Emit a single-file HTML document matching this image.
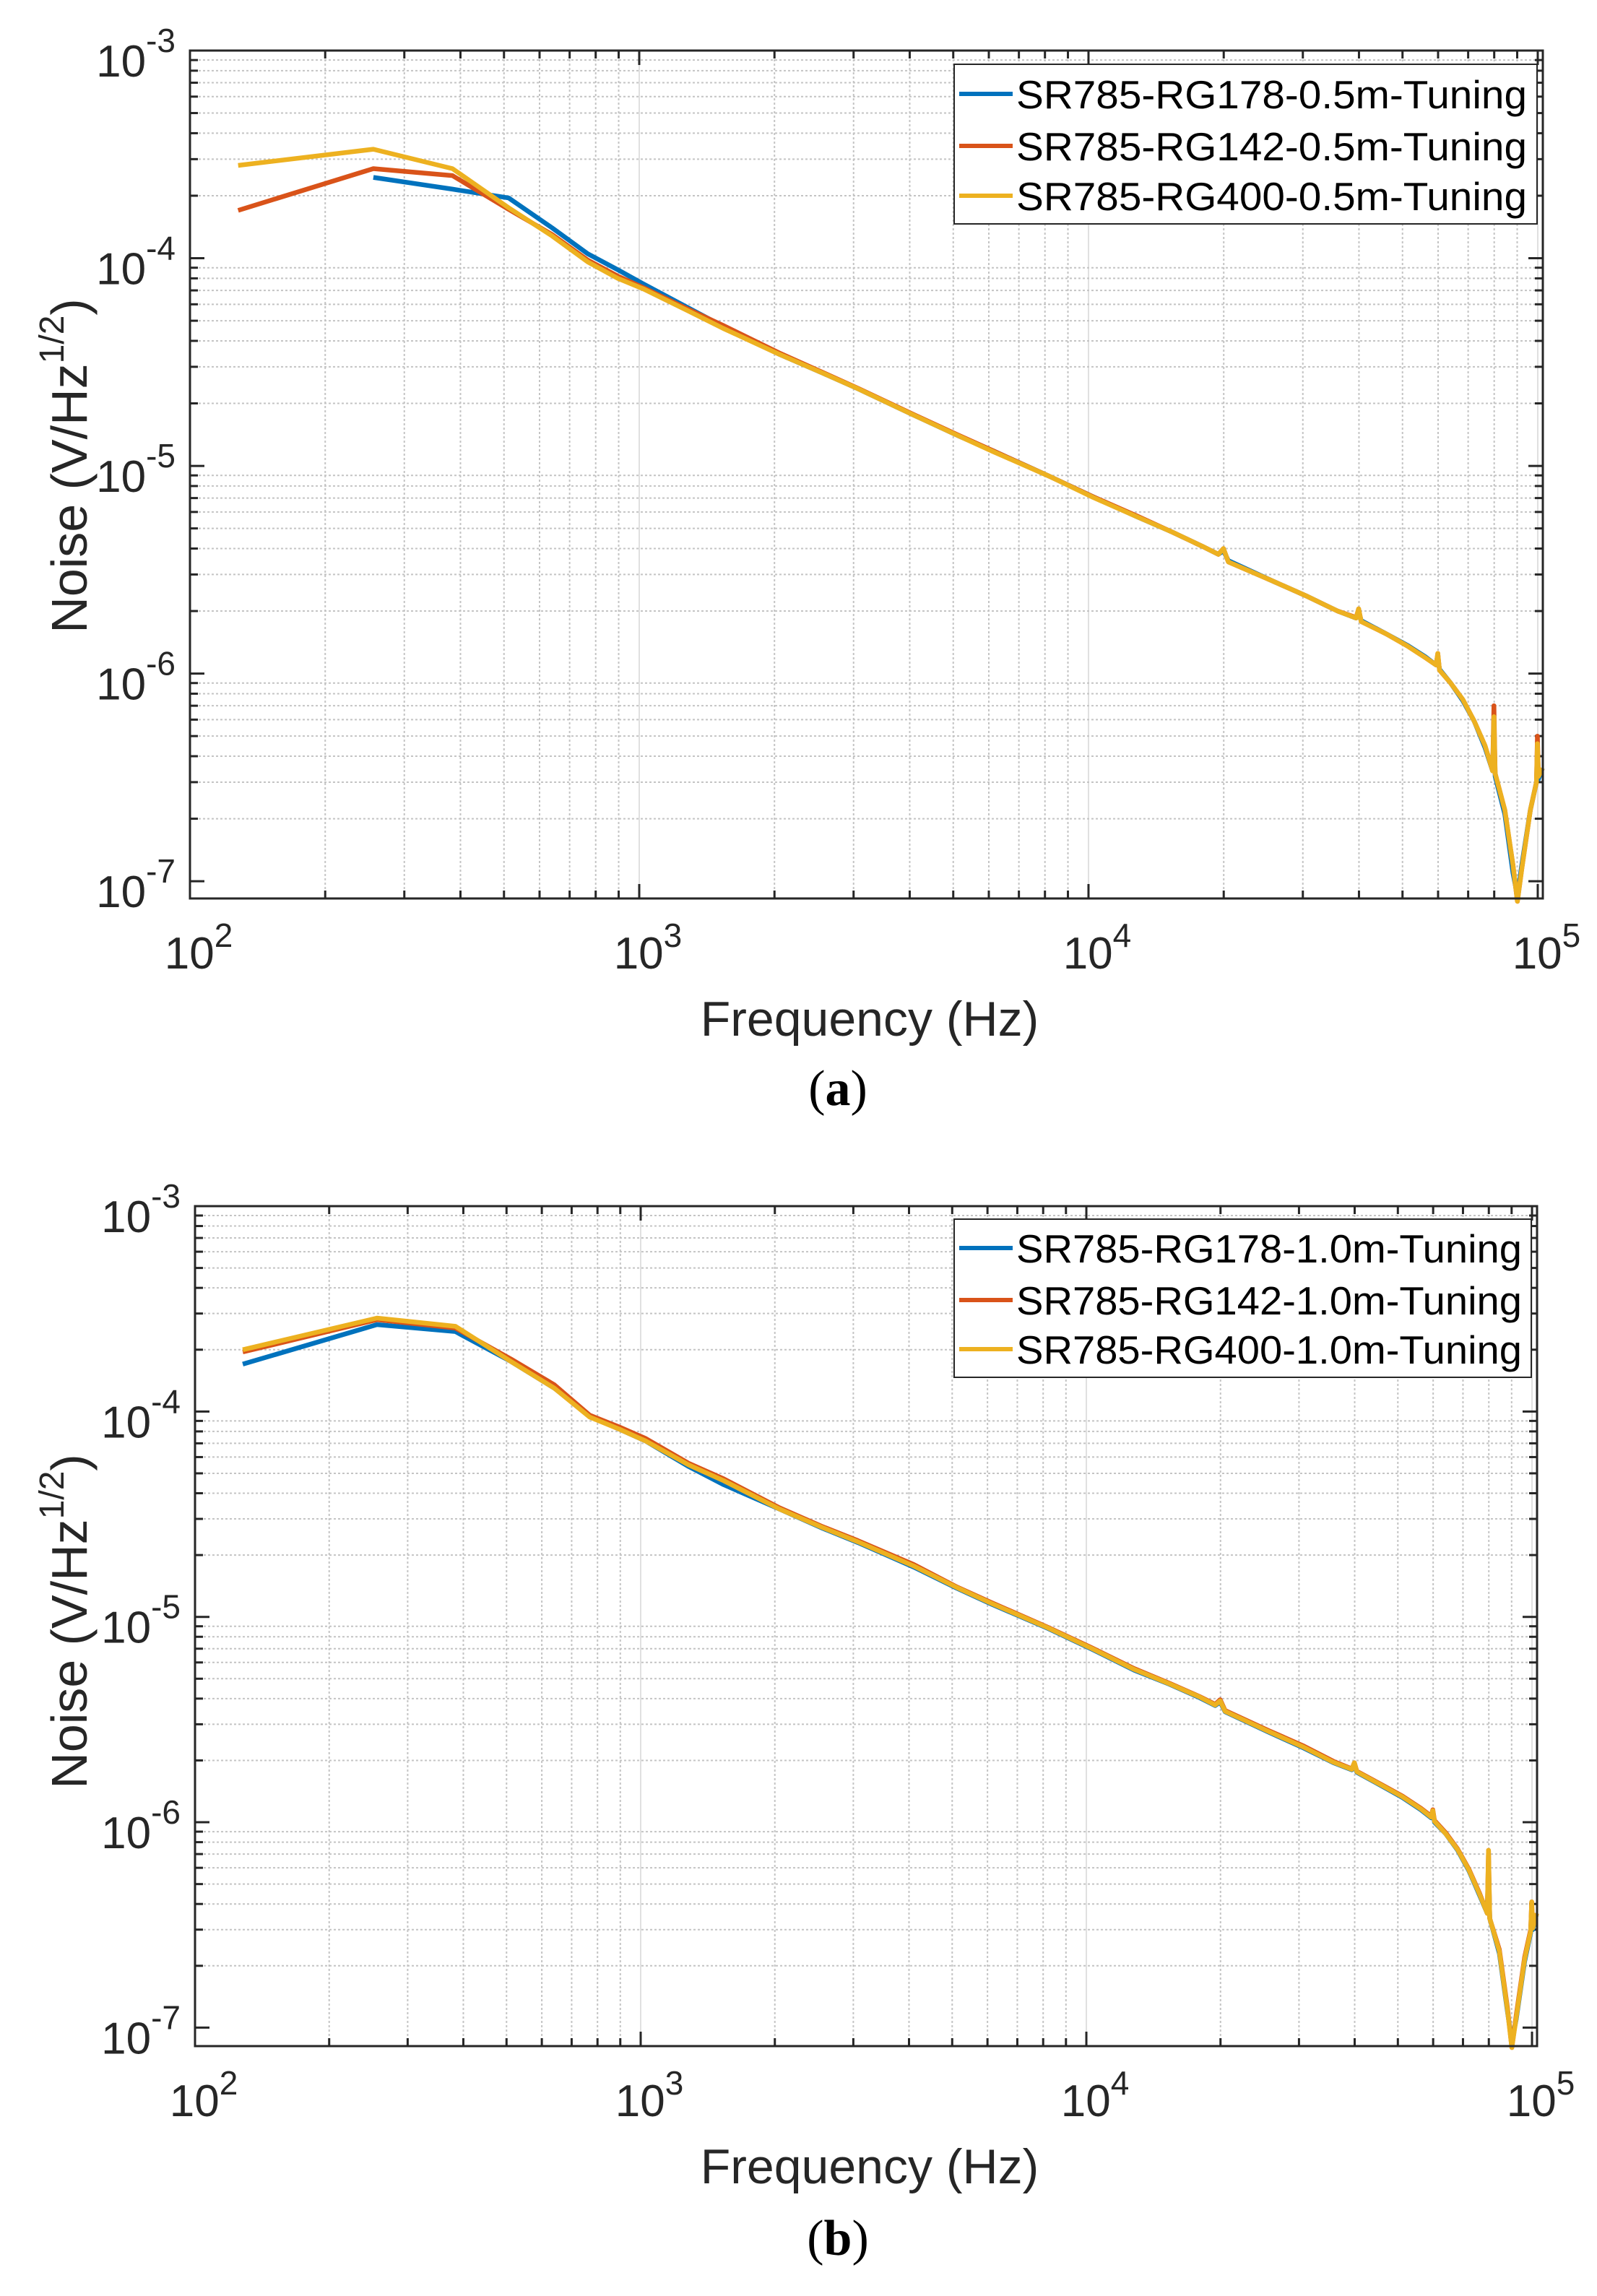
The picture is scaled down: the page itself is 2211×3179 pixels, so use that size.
<!DOCTYPE html>
<html><head><meta charset="utf-8"><style>
html,body{margin:0;padding:0;background:#fff;}
svg{display:block;font-family:"Liberation Sans",Arial,sans-serif;}
</style></head><body>
<svg id="fig" width="2211" height="3179" viewBox="0 0 2211 3179" xmlns="http://www.w3.org/2000/svg">
<rect x="0" y="0" width="2211" height="3179" fill="#fff"/>
</svg>
<script>
// ---- data (frequencies in Hz, noise in V/Hz^1/2) ----
const freqs = [128,256,384,512,640,768,896,1024,1280,1536,2048,2560,3072,4096,5120,6144,8192,10240,12800,15360,17920,19456,19968,20480,25600,30720,35840,39424,39936,40448,46080,51200,56320,59392,59904,60416,64000,68096,72192,76288,79360,79872,80384,84480,88064,90112,92160,96256,99328,99840,100352,102400];
const xTickLabels = ["2","3","4","5"];
const yTickLabels = ["-3","-4","-5","-6","-7"];
const seriesNamesA = ["SR785-RG178-0.5m-Tuning","SR785-RG142-0.5m-Tuning","SR785-RG400-0.5m-Tuning"];
const seriesNamesB = ["SR785-RG178-1.0m-Tuning","SR785-RG142-1.0m-Tuning","SR785-RG400-1.0m-Tuning"];
const blueA = [null,2.45e-4,2.15e-4,1.95e-4,1.4e-4,1.05e-4,8.8e-5,7.5e-5,5.8e-5,4.7e-5,3.45e-5,2.8e-5,2.35e-5,1.75e-5,1.4e-5,1.18e-5,8.9e-6,7.1e-6,5.7e-6,4.8e-6,4.1e-6,3.75e-6,3.9e-6,3.5e-6,2.8e-6,2.35e-6,2.0e-6,1.85e-6,2.0e-6,1.8e-6,1.55e-6,1.37e-6,1.2e-6,1.1e-6,1.2e-6,1.05e-6,9.0e-7,7.4e-7,5.9e-7,4.4e-7,3.4e-7,5.5e-7,3.2e-7,2.1e-7,1.1e-7,8.5e-8,1.2e-7,2.2e-7,3.0e-7,4.0e-7,3.1e-7,3.5e-7];
const redA = [1.7e-4,2.7e-4,2.5e-4,1.72e-4,1.3e-4,9.8e-5,8.2e-5,7.2e-5,5.7e-5,4.75e-5,3.5e-5,2.82e-5,2.36e-5,1.76e-5,1.41e-5,1.18e-5,8.9e-6,7.1e-6,5.75e-6,4.8e-6,4.1e-6,3.75e-6,4.0e-6,3.45e-6,2.8e-6,2.35e-6,2.0e-6,1.86e-6,2.05e-6,1.78e-6,1.55e-6,1.36e-6,1.19e-6,1.1e-6,1.25e-6,1.04e-6,9.0e-7,7.5e-7,5.9e-7,4.5e-7,3.4e-7,7.0e-7,3.3e-7,2.2e-7,1.2e-7,8.0e-8,1.15e-7,2.2e-7,3.0e-7,5.0e-7,3.2e-7,3.5e-7];
const yellowA = [2.8e-4,3.35e-4,2.7e-4,1.75e-4,1.28e-4,9.6e-5,8.0e-5,7.1e-5,5.6e-5,4.6e-5,3.45e-5,2.8e-5,2.35e-5,1.75e-5,1.4e-5,1.17e-5,8.9e-6,7.05e-6,5.7e-6,4.8e-6,4.1e-6,3.75e-6,4.0e-6,3.45e-6,2.8e-6,2.35e-6,2.0e-6,1.85e-6,2.05e-6,1.78e-6,1.55e-6,1.36e-6,1.19e-6,1.1e-6,1.25e-6,1.04e-6,9.0e-7,7.5e-7,5.9e-7,4.5e-7,3.4e-7,6.2e-7,3.3e-7,2.2e-7,1.2e-7,8.0e-8,1.15e-7,2.2e-7,3.0e-7,4.6e-7,3.2e-7,3.5e-7];
const blueB = [1.7e-4,2.65e-4,2.45e-4,1.75e-4,1.3e-4,9.5e-5,8.2e-5,7.2e-5,5.4e-5,4.4e-5,3.35e-5,2.7e-5,2.3e-5,1.75e-5,1.38e-5,1.15e-5,8.8e-6,7.0e-6,5.5e-6,4.7e-6,4.05e-6,3.7e-6,3.85e-6,3.45e-6,2.75e-6,2.3e-6,1.95e-6,1.8e-6,1.9e-6,1.75e-6,1.5e-6,1.32e-6,1.15e-6,1.05e-6,1.12e-6,1.0e-6,8.8e-7,7.3e-7,5.8e-7,4.4e-7,3.6e-7,6.5e-7,3.4e-7,2.3e-7,1.2e-7,8.5e-8,1.1e-7,2.1e-7,2.9e-7,3.8e-7,3.0e-7,3.6e-7];
const redB = [1.95e-4,2.8e-4,2.55e-4,1.8e-4,1.35e-4,9.6e-5,8.4e-5,7.4e-5,5.6e-5,4.7e-5,3.4e-5,2.75e-5,2.35e-5,1.8e-5,1.4e-5,1.17e-5,8.9e-6,7.1e-6,5.6e-6,4.75e-6,4.1e-6,3.75e-6,3.95e-6,3.5e-6,2.8e-6,2.35e-6,1.98e-6,1.82e-6,1.95e-6,1.77e-6,1.52e-6,1.34e-6,1.17e-6,1.07e-6,1.15e-6,1.02e-6,8.9e-7,7.4e-7,5.9e-7,4.5e-7,3.6e-7,7.3e-7,3.4e-7,2.4e-7,1.25e-7,8.0e-8,1.15e-7,2.2e-7,3.0e-7,4.1e-7,3.1e-7,3.6e-7];
const yellowB = [2.0e-4,2.85e-4,2.6e-4,1.75e-4,1.3e-4,9.4e-5,8.2e-5,7.2e-5,5.5e-5,4.6e-5,3.35e-5,2.72e-5,2.32e-5,1.77e-5,1.39e-5,1.16e-5,8.85e-6,7.05e-6,5.55e-6,4.72e-6,4.08e-6,3.72e-6,3.9e-6,3.47e-6,2.77e-6,2.32e-6,1.96e-6,1.81e-6,1.95e-6,1.76e-6,1.51e-6,1.33e-6,1.16e-6,1.06e-6,1.14e-6,1.01e-6,8.8e-7,7.35e-7,5.85e-7,4.45e-7,3.6e-7,7.3e-7,3.4e-7,2.35e-7,1.22e-7,8.0e-8,1.12e-7,2.15e-7,2.95e-7,4.1e-7,3.05e-7,3.6e-7];

const NS = "http://www.w3.org/2000/svg";
const svg = document.getElementById('fig');
const COLORS = ["#0072BD","#D95319","#EDB120"];
const INK = "#262626";
function mk(tag, attrs, parent){ const e=document.createElementNS(NS,tag); for(const k in attrs) e.setAttribute(k,attrs[k]); (parent||svg).appendChild(e); return e; }

function panel(p){
  const g = mk('g',{});
  
  
  const xMinL=2, xMaxL=5.0113, yMaxL=-3, yMinL=p.yMinL;
  const X = f => p.left + (Math.log10(f)-xMinL)/(xMaxL-xMinL)*(p.right-p.left);
  const Y = v => p.top + (yMaxL-Math.log10(v))/(yMaxL-yMinL)*(p.bottom-p.top);
  const grid = mk('g',{},g);
  
  
  for(let d=2; d<=5; d++){
    for(let m=1; m<=9; m++){
      const f=m*Math.pow(10,d); if(Math.log10(f)>xMaxL) break;
      const x=X(f);
      if(m===1){ if(d>2) mk('line',{x1:x,x2:x,y1:p.top,y2:p.bottom,stroke:"#e0e0e0","stroke-width":2},grid);}
      else mk('line',{x1:x,x2:x,y1:p.top,y2:p.bottom,stroke:"#c4c4c4","stroke-width":2,"stroke-dasharray":"3 3"},grid);
      const L = m===1?20:11;
      mk('line',{x1:x,x2:x,y1:p.bottom,y2:p.bottom-L,stroke:INK,"stroke-width":3},g);
      mk('line',{x1:x,x2:x,y1:p.top,y2:p.top+L,stroke:INK,"stroke-width":3},g);
    }
  }
  for(let d=-7; d<=-3; d++){
    for(let m=1; m<=9; m++){
      const v=m*Math.pow(10,d); if(Math.log10(v)>yMaxL+1e-9) break;
      const y=Y(v);
      if(m===1){ if(d>-3) mk('line',{x1:p.left,x2:p.right,y1:y,y2:y,stroke:"#e0e0e0","stroke-width":2},grid);}
      else mk('line',{x1:p.left,x2:p.right,y1:y,y2:y,stroke:"#c4c4c4","stroke-width":2,"stroke-dasharray":"3 3"},grid);
      const L = m===1?20:11;
      mk('line',{x1:p.left,x2:p.left+L,y1:y,y2:y,stroke:INK,"stroke-width":3},g);
      mk('line',{x1:p.right,x2:p.right-L,y1:y,y2:y,stroke:INK,"stroke-width":3},g);
    }
  }
  const data=[p.s[0],p.s[1],p.s[2]];
  const names=["blue","red","yellow"];
  data.forEach((arr,i)=>{
    let d="";
    arr.forEach((v,j)=>{ if(v==null) return; d += (d?"L":"M")+X(freqs[j]).toFixed(1)+","+Y(v).toFixed(1); });
    const path=mk('path',{d:d,fill:"none",stroke:COLORS[i],"stroke-width":6.5,"stroke-linejoin":"round"},g);
    
    
  });
  const box=mk('rect',{x:p.left,y:p.top,width:p.right-p.left,height:p.bottom-p.top,fill:"none",stroke:INK,"stroke-width":3},g);
  
  
  xTickLabels.forEach((e,i)=>{
    const x=X(Math.pow(10,2+i));
    const t=mk('text',{x:x+12,y:p.bottom+97,"font-size":62,fill:INK,"text-anchor":"middle"},g);
    
    
    t.innerHTML='10<tspan dy="-30" font-size="46">'+e+'</tspan>';
  });
  yTickLabels.forEach((e,i)=>{
    const y=Y(Math.pow(10,-3-i));
    const t=mk('text',{x:p.left-20,y:y+36,"font-size":62,fill:INK,"text-anchor":"end"},g);
    
    
    t.innerHTML='10<tspan dy="-34" font-size="46">'+e+'</tspan>';
  });
  const xt=mk('text',{x:1204,y:p.bottom+190,"font-size":68,fill:INK,"text-anchor":"middle"},g);
  
  
  xt.textContent="Frequency (Hz)";
  const yt=mk('text',{x:0,y:0,"font-size":70,fill:INK,"text-anchor":"middle",transform:"translate(120,"+p.ylabY+") rotate(-90)"},g);
  
  
  yt.innerHTML='Noise (V/Hz<tspan dy="-32" font-size="48">1/2</tspan><tspan dy="32">)</tspan>';
  const lg=mk('g',{},g);
  
  
  mk('rect',{x:p.lg.x,y:p.lg.y,width:p.lg.w,height:p.lg.h,fill:"#fff",stroke:INK,"stroke-width":2},lg);
  p.names.forEach((n,i)=>{
    const cy=p.lg.rows[i];
    const e=mk('g',{},lg);
    
    
    mk('line',{x1:p.lg.x+7,x2:p.lg.x+81,y1:cy,y2:cy,stroke:COLORS[i],"stroke-width":6},e);
    const t=mk('text',{x:p.lg.x+86,y:cy+20,"font-size":55,fill:"#000",textLength:p.lg.tl,lengthAdjust:"spacingAndGlyphs"},e);
    t.textContent=n;
  });
  const c=mk('text',{x:1160,y:p.capY,"font-size":70,fill:"#000","text-anchor":"middle","font-family":"Liberation Serif, serif"},g);
  
  
  c.innerHTML='(<tspan font-weight="bold">'+p.cap+'</tspan>)';
}
panel({name:"panel-a",left:263,right:2136,top:70,bottom:1244,yMinL:-7.083,s:[blueA,redA,yellowA],names:seriesNamesA,
  lg:{x:1321,y:89,w:807,h:221,rows:[130,202,271],tl:707},ylabY:645,capY:1530,cap:"a"});
panel({name:"panel-b",left:270,right:2128,top:1670,bottom:2833,yMinL:-7.09,s:[blueB,redB,yellowB],names:seriesNamesB,
  lg:{x:1321,y:1688,w:799,h:219,rows:[1728,1800,1868],tl:700},ylabY:2245,capY:3122,cap:"b"});
</script>
</body></html>
